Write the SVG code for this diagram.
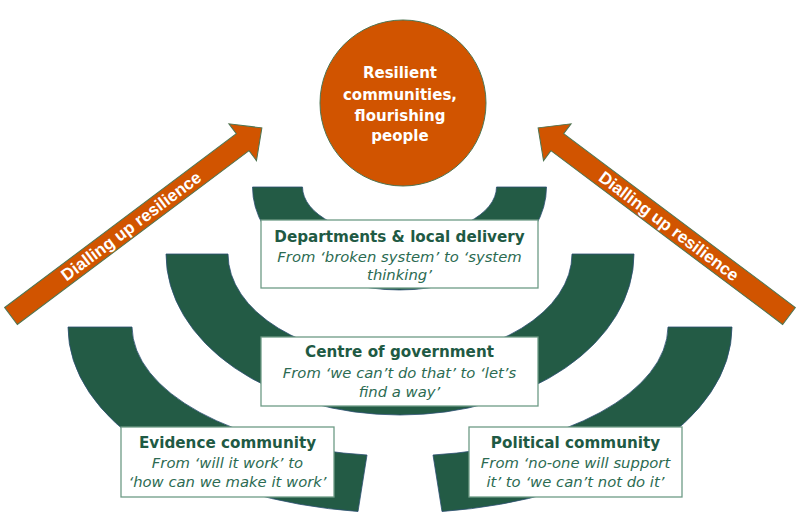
<svg xmlns="http://www.w3.org/2000/svg" width="800" height="532" viewBox="0 0 800 532">
<style>
.arc{fill:#235B45;stroke:#2c4f72;stroke-width:0.8}
.box{fill:#ffffff;stroke:#6E9B86;stroke-width:1.3}
.ttl{font-family:"DejaVu Sans",sans-serif;font-weight:bold;font-size:15.2px;fill:#1F5A44;text-anchor:middle}
.sub{font-family:"DejaVu Sans",sans-serif;font-style:italic;font-size:14.8px;fill:#2C6B52;text-anchor:middle}
.ctr{font-family:"DejaVu Sans",sans-serif;font-weight:bold;font-size:15px;fill:#ffffff;text-anchor:middle}
.arr{fill:#D15400;stroke:#4E7552;stroke-width:1}
.arrt{font-family:"Liberation Sans",Arial,sans-serif;font-weight:bold;font-size:17px;fill:#ffffff;text-anchor:middle}
</style>
<rect width="800" height="532" fill="#ffffff"/>
<g id="connectors">
<g id="arrow-left">
<polygon class="arr" transform="translate(11,316) rotate(-36.87)" points="0,-10.6 289.6,-10.6 289.6,-23 313.6,0 289.6,23 289.6,10.6 0,10.6"/>
<text class="arrt" transform="translate(131,226) rotate(-36.87)" y="6">Dialling up resilience</text>
</g>
<g id="arrow-right">
<polygon class="arr" transform="translate(789,316) rotate(-143.13)" points="0,-10.6 289.6,-10.6 289.6,-23 313.6,0 289.6,23 289.6,10.6 0,10.6"/>
<text class="arrt" transform="translate(669,226) rotate(36.87)" y="6">Dialling up resilience</text>
</g>
</g>
<g id="evidence">
<path class="arc" d="M68,327 A332,186 0 0,0 358,511.5 L367,455 A268,130 0 0,1 132,327 Z"/>
<rect class="box" x="121" y="427" width="213" height="70"/>
<text class="ttl" x="227.5" y="448.3">Evidence community</text>
<text class="sub" x="227.5" y="468.3">From ‘will it work’ to</text>
<text class="sub" x="227.5" y="487.3">‘how can we make it work’</text>
</g>
<g id="political">
<path class="arc" d="M732,327 A332,186 0 0,1 442,511.5 L433,455 A268,130 0 0,0 668,327 Z"/>
<rect class="box" x="469" y="427" width="213" height="70"/>
<text class="ttl" x="575.5" y="448.3">Political community</text>
<text class="sub" x="575.5" y="468.3">From ‘no-one will support</text>
<text class="sub" x="575.5" y="487.3">it’ to ‘we can’t not do it’</text>
</g>
<g id="centre">
<path class="arc" d="M166,254 A234,161 0 0,0 634,254 L572,254 A172,105 0 0,1 228,254 Z"/>
<rect class="box" x="261" y="337" width="277" height="69"/>
<text class="ttl" x="399.5" y="357.3">Centre of government</text>
<text class="sub" x="399.5" y="378.3">From ‘we can’t do that’ to ‘let’s</text>
<text class="sub" x="399.5" y="397">find a way’</text>
</g>
<g id="departments">
<path class="arc" d="M252.5,187 A147,103 0 0,0 546.5,187 L496.5,187 A97,50 0 0,1 302.5,187 Z"/>
<rect class="box" x="261" y="220" width="277" height="68"/>
<text class="ttl" x="399.5" y="241.7">Departments &amp; local delivery</text>
<text class="sub" x="399.5" y="261.7">From ‘broken system’ to ‘system</text>
<text class="sub" x="399.5" y="280">thinking’</text>
</g>
<g id="goal">
<circle cx="403" cy="103" r="83" fill="#D15400" stroke="#4E7552" stroke-width="1"/>
<text class="ctr" x="400" y="77.5">Resilient</text>
<text class="ctr" x="400" y="99.5">communities,</text>
<text class="ctr" x="400" y="120.5">flourishing</text>
<text class="ctr" x="400" y="141">people</text>
</g>
</svg>
